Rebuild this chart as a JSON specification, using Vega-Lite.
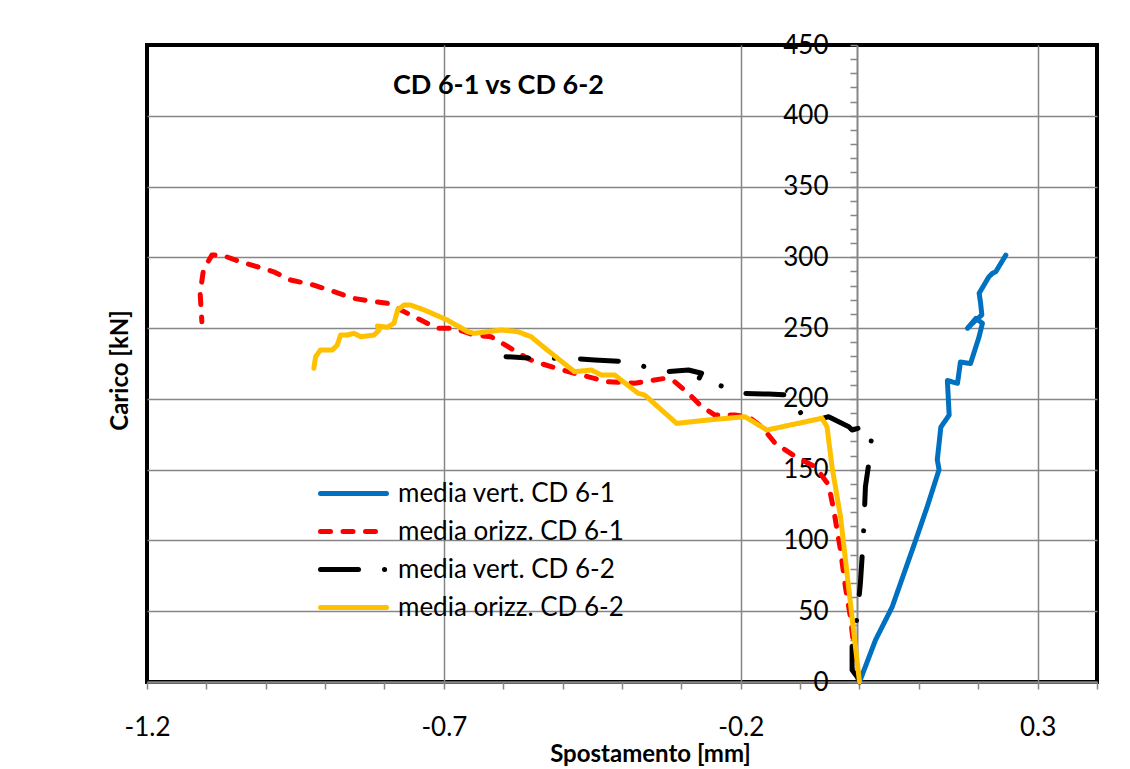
{
  "$schema": "https://vega.github.io/schema/vega-lite/v6.json",
  "width": 950,
  "height": 637,
  "autosize": {"type": "none"},
  "padding": {"left": 147, "top": 45, "right": 33, "bottom": 87},
  "background": "white",
  "config": {
    "font": "Lato",
    "view": {"stroke": "#000000", "strokeWidth": 4}
  },
  "title": {
    "text": "CD 6-1 vs CD 6-2",
    "anchor": "start",
    "frame": "group",
    "orient": "top",
    "offset": 0,
    "dx": 246,
    "dy": 68,
    "baseline": "top",
    "font": "Lato",
    "fontSize": 27,
    "fontWeight": "bold",
    "color": "#000000"
  },
  "data": {
    "values": [
      {"s": "media vert. CD 6-1", "i": 0, "x": 0, "y": 0},
      {"s": "media vert. CD 6-1", "i": 1, "x": 0.027, "y": 29.7},
      {"s": "media vert. CD 6-1", "i": 2, "x": 0.055, "y": 53},
      {"s": "media vert. CD 6-1", "i": 3, "x": 0.075, "y": 76.8},
      {"s": "media vert. CD 6-1", "i": 4, "x": 0.0945, "y": 100},
      {"s": "media vert. CD 6-1", "i": 5, "x": 0.114, "y": 123.8},
      {"s": "media vert. CD 6-1", "i": 6, "x": 0.134, "y": 150},
      {"s": "media vert. CD 6-1", "i": 7, "x": 0.131, "y": 157},
      {"s": "media vert. CD 6-1", "i": 8, "x": 0.137, "y": 180},
      {"s": "media vert. CD 6-1", "i": 9, "x": 0.151, "y": 188.6},
      {"s": "media vert. CD 6-1", "i": 10, "x": 0.148, "y": 213},
      {"s": "media vert. CD 6-1", "i": 11, "x": 0.165, "y": 211},
      {"s": "media vert. CD 6-1", "i": 12, "x": 0.17, "y": 226},
      {"s": "media vert. CD 6-1", "i": 13, "x": 0.187, "y": 225},
      {"s": "media vert. CD 6-1", "i": 14, "x": 0.2015, "y": 244},
      {"s": "media vert. CD 6-1", "i": 15, "x": 0.207, "y": 253.4},
      {"s": "media vert. CD 6-1", "i": 16, "x": 0.196, "y": 256.9},
      {"s": "media vert. CD 6-1", "i": 17, "x": 0.182, "y": 249.9},
      {"s": "media vert. CD 6-1", "i": 18, "x": 0.193, "y": 254.5},
      {"s": "media vert. CD 6-1", "i": 19, "x": 0.206, "y": 259.3},
      {"s": "media vert. CD 6-1", "i": 20, "x": 0.204, "y": 267.5},
      {"s": "media vert. CD 6-1", "i": 21, "x": 0.2015, "y": 274.6},
      {"s": "media vert. CD 6-1", "i": 22, "x": 0.213, "y": 282.8},
      {"s": "media vert. CD 6-1", "i": 23, "x": 0.218, "y": 286.3},
      {"s": "media vert. CD 6-1", "i": 24, "x": 0.224, "y": 288.7},
      {"s": "media vert. CD 6-1", "i": 25, "x": 0.2296, "y": 289.9},
      {"s": "media vert. CD 6-1", "i": 26, "x": 0.2465, "y": 301.6},

      {"s": "media orizz. CD 6-1", "i": 0, "x": 0, "y": 0},
      {"s": "media orizz. CD 6-1", "i": 1, "x": -0.001, "y": 3.7},
      {"s": "media orizz. CD 6-1", "i": 2, "x": -0.0096, "y": 24.9},
      {"s": "media orizz. CD 6-1", "i": 3, "x": -0.0154, "y": 46.1},
      {"s": "media orizz. CD 6-1", "i": 4, "x": -0.0238, "y": 67.3},
      {"s": "media orizz. CD 6-1", "i": 5, "x": -0.032, "y": 93.2},
      {"s": "media orizz. CD 6-1", "i": 6, "x": -0.0434, "y": 121.5},
      {"s": "media orizz. CD 6-1", "i": 7, "x": -0.052, "y": 139.2},
      {"s": "media orizz. CD 6-1", "i": 8, "x": -0.0745, "y": 152.1},
      {"s": "media orizz. CD 6-1", "i": 9, "x": -0.108, "y": 159.2},
      {"s": "media orizz. CD 6-1", "i": 10, "x": -0.142, "y": 168.6},
      {"s": "media orizz. CD 6-1", "i": 11, "x": -0.1645, "y": 180.3},
      {"s": "media orizz. CD 6-1", "i": 12, "x": -0.187, "y": 187.4},
      {"s": "media orizz. CD 6-1", "i": 13, "x": -0.2096, "y": 188.6},
      {"s": "media orizz. CD 6-1", "i": 14, "x": -0.2434, "y": 188.6},
      {"s": "media orizz. CD 6-1", "i": 15, "x": -0.266, "y": 194.5},
      {"s": "media orizz. CD 6-1", "i": 16, "x": -0.288, "y": 203.9},
      {"s": "media orizz. CD 6-1", "i": 17, "x": -0.311, "y": 212.1},
      {"s": "media orizz. CD 6-1", "i": 18, "x": -0.328, "y": 214.5},
      {"s": "media orizz. CD 6-1", "i": 19, "x": -0.3785, "y": 211},
      {"s": "media orizz. CD 6-1", "i": 20, "x": -0.4235, "y": 212.1},
      {"s": "media orizz. CD 6-1", "i": 21, "x": -0.48, "y": 218},
      {"s": "media orizz. CD 6-1", "i": 22, "x": -0.5475, "y": 226.3},
      {"s": "media orizz. CD 6-1", "i": 23, "x": -0.564, "y": 229.8},
      {"s": "media orizz. CD 6-1", "i": 24, "x": -0.592, "y": 236.9},
      {"s": "media orizz. CD 6-1", "i": 25, "x": -0.6206, "y": 243.9},
      {"s": "media orizz. CD 6-1", "i": 26, "x": -0.649, "y": 245.1},
      {"s": "media orizz. CD 6-1", "i": 27, "x": -0.6826, "y": 249.9},
      {"s": "media orizz. CD 6-1", "i": 28, "x": -0.7107, "y": 249.9},
      {"s": "media orizz. CD 6-1", "i": 29, "x": -0.739, "y": 255.7},
      {"s": "media orizz. CD 6-1", "i": 30, "x": -0.7726, "y": 262.8},
      {"s": "media orizz. CD 6-1", "i": 31, "x": -0.795, "y": 267.5},
      {"s": "media orizz. CD 6-1", "i": 32, "x": -0.8177, "y": 268.7},
      {"s": "media orizz. CD 6-1", "i": 33, "x": -0.8515, "y": 271},
      {"s": "media orizz. CD 6-1", "i": 34, "x": -0.885, "y": 275.7},
      {"s": "media orizz. CD 6-1", "i": 35, "x": -0.919, "y": 280.4},
      {"s": "media orizz. CD 6-1", "i": 36, "x": -0.958, "y": 284},
      {"s": "media orizz. CD 6-1", "i": 37, "x": -0.9867, "y": 289.8},
      {"s": "media orizz. CD 6-1", "i": 38, "x": -1.0147, "y": 293.4},
      {"s": "media orizz. CD 6-1", "i": 39, "x": -1.043, "y": 296.9},
      {"s": "media orizz. CD 6-1", "i": 40, "x": -1.074, "y": 301.6},
      {"s": "media orizz. CD 6-1", "i": 41, "x": -1.0907, "y": 301.6},
      {"s": "media orizz. CD 6-1", "i": 42, "x": -1.105, "y": 291},
      {"s": "media orizz. CD 6-1", "i": 43, "x": -1.1105, "y": 274.6},
      {"s": "media orizz. CD 6-1", "i": 44, "x": -1.1076, "y": 254.5},

      {"s": "media vert. CD 6-2", "i": 0, "x": 0, "y": 0},
      {"s": "media vert. CD 6-2", "i": 1, "x": -0.004, "y": 3.7},
      {"s": "media vert. CD 6-2", "i": 2, "x": -0.0125, "y": 8.5},
      {"s": "media vert. CD 6-2", "i": 3, "x": -0.0125, "y": 24.9},
      {"s": "media vert. CD 6-2", "i": 4, "x": -0.004, "y": 46.1},
      {"s": "media vert. CD 6-2", "i": 5, "x": 0.0015, "y": 69.7},
      {"s": "media vert. CD 6-2", "i": 6, "x": 0.0044, "y": 88.5},
      {"s": "media vert. CD 6-2", "i": 7, "x": 0.0073, "y": 109.7},
      {"s": "media vert. CD 6-2", "i": 8, "x": 0.01, "y": 138},
      {"s": "media vert. CD 6-2", "i": 9, "x": 0.0157, "y": 154.5},
      {"s": "media vert. CD 6-2", "i": 10, "x": 0.0213, "y": 176.8},
      {"s": "media vert. CD 6-2", "i": 11, "x": 0.0213, "y": 178},
      {"s": "media vert. CD 6-2", "i": 12, "x": 0.0073, "y": 180.3},
      {"s": "media vert. CD 6-2", "i": 13, "x": -0.0125, "y": 178},
      {"s": "media vert. CD 6-2", "i": 14, "x": -0.018, "y": 180.3},
      {"s": "media vert. CD 6-2", "i": 15, "x": -0.052, "y": 187.4},
      {"s": "media vert. CD 6-2", "i": 16, "x": -0.0745, "y": 185.1},
      {"s": "media vert. CD 6-2", "i": 17, "x": -0.097, "y": 188.6},
      {"s": "media vert. CD 6-2", "i": 18, "x": -0.108, "y": 196.8},
      {"s": "media vert. CD 6-2", "i": 19, "x": -0.1194, "y": 202.7},
      {"s": "media vert. CD 6-2", "i": 20, "x": -0.153, "y": 203.4},
      {"s": "media vert. CD 6-2", "i": 21, "x": -0.198, "y": 203.9},
      {"s": "media vert. CD 6-2", "i": 22, "x": -0.2208, "y": 207.5},
      {"s": "media vert. CD 6-2", "i": 23, "x": -0.2546, "y": 212.1},
      {"s": "media vert. CD 6-2", "i": 24, "x": -0.2715, "y": 213.3},
      {"s": "media vert. CD 6-2", "i": 25, "x": -0.266, "y": 218.1},
      {"s": "media vert. CD 6-2", "i": 26, "x": -0.288, "y": 220.4},
      {"s": "media vert. CD 6-2", "i": 27, "x": -0.328, "y": 219.2},
      {"s": "media vert. CD 6-2", "i": 28, "x": -0.3617, "y": 222.7},
      {"s": "media vert. CD 6-2", "i": 29, "x": -0.3897, "y": 226.3},
      {"s": "media vert. CD 6-2", "i": 30, "x": -0.446, "y": 227.5},
      {"s": "media vert. CD 6-2", "i": 31, "x": -0.4855, "y": 228.7},
      {"s": "media vert. CD 6-2", "i": 32, "x": -0.5475, "y": 228.7},
      {"s": "media vert. CD 6-2", "i": 33, "x": -0.5953, "y": 229.8},

      {"s": "media orizz. CD 6-2", "i": 0, "x": 0, "y": 0},
      {"s": "media orizz. CD 6-2", "i": 1, "x": -0.032, "y": 116.8},
      {"s": "media orizz. CD 6-2", "i": 2, "x": -0.0463, "y": 152.1},
      {"s": "media orizz. CD 6-2", "i": 3, "x": -0.0547, "y": 180.3},
      {"s": "media orizz. CD 6-2", "i": 4, "x": -0.0632, "y": 186.3},
      {"s": "media orizz. CD 6-2", "i": 5, "x": -0.156, "y": 178},
      {"s": "media orizz. CD 6-2", "i": 6, "x": -0.1927, "y": 187.4},
      {"s": "media orizz. CD 6-2", "i": 7, "x": -0.2546, "y": 185.1},
      {"s": "media orizz. CD 6-2", "i": 8, "x": -0.308, "y": 182.7},
      {"s": "media orizz. CD 6-2", "i": 9, "x": -0.3617, "y": 202.7},
      {"s": "media orizz. CD 6-2", "i": 10, "x": -0.3728, "y": 203.9},
      {"s": "media orizz. CD 6-2", "i": 11, "x": -0.4123, "y": 216.9},
      {"s": "media orizz. CD 6-2", "i": 12, "x": -0.4348, "y": 216.9},
      {"s": "media orizz. CD 6-2", "i": 13, "x": -0.4517, "y": 220.4},
      {"s": "media orizz. CD 6-2", "i": 14, "x": -0.48, "y": 219.2},
      {"s": "media orizz. CD 6-2", "i": 15, "x": -0.519, "y": 232.2},
      {"s": "media orizz. CD 6-2", "i": 16, "x": -0.536, "y": 238},
      {"s": "media orizz. CD 6-2", "i": 17, "x": -0.553, "y": 243.9},
      {"s": "media orizz. CD 6-2", "i": 18, "x": -0.5755, "y": 247.5},
      {"s": "media orizz. CD 6-2", "i": 19, "x": -0.6037, "y": 248.7},
      {"s": "media orizz. CD 6-2", "i": 20, "x": -0.649, "y": 246.3},
      {"s": "media orizz. CD 6-2", "i": 21, "x": -0.66, "y": 247.5},
      {"s": "media orizz. CD 6-2", "i": 22, "x": -0.694, "y": 255.7},
      {"s": "media orizz. CD 6-2", "i": 23, "x": -0.733, "y": 262.8},
      {"s": "media orizz. CD 6-2", "i": 24, "x": -0.756, "y": 266.3},
      {"s": "media orizz. CD 6-2", "i": 25, "x": -0.767, "y": 266.3},
      {"s": "media orizz. CD 6-2", "i": 26, "x": -0.778, "y": 262.8},
      {"s": "media orizz. CD 6-2", "i": 27, "x": -0.784, "y": 253.4},
      {"s": "media orizz. CD 6-2", "i": 28, "x": -0.795, "y": 250.6},
      {"s": "media orizz. CD 6-2", "i": 29, "x": -0.812, "y": 251.5},
      {"s": "media orizz. CD 6-2", "i": 30, "x": -0.809, "y": 248.7},
      {"s": "media orizz. CD 6-2", "i": 31, "x": -0.8177, "y": 245.1},
      {"s": "media orizz. CD 6-2", "i": 32, "x": -0.84, "y": 243.9},
      {"s": "media orizz. CD 6-2", "i": 33, "x": -0.8515, "y": 246.3},
      {"s": "media orizz. CD 6-2", "i": 34, "x": -0.8627, "y": 245.1},
      {"s": "media orizz. CD 6-2", "i": 35, "x": -0.874, "y": 245.1},
      {"s": "media orizz. CD 6-2", "i": 36, "x": -0.8796, "y": 238},
      {"s": "media orizz. CD 6-2", "i": 37, "x": -0.888, "y": 234.5},
      {"s": "media orizz. CD 6-2", "i": 38, "x": -0.908, "y": 234.5},
      {"s": "media orizz. CD 6-2", "i": 39, "x": -0.916, "y": 229.8},
      {"s": "media orizz. CD 6-2", "i": 40, "x": -0.919, "y": 221.6}
    ]
  },
  "mark": {"type": "line", "strokeWidth": 5, "strokeCap": "round", "strokeJoin": "round"},
  "encoding": {
    "x": {
      "field": "x",
      "type": "quantitative",
      "scale": {"domain": [-1.2, 0.4], "nice": false, "zero": false},
      "axis": {
        "values": [-1.2, -1.1, -1.0, -0.9, -0.8, -0.7, -0.6, -0.5, -0.4, -0.3, -0.2, -0.1, 0, 0.1, 0.2, 0.3, 0.4],
        "labelExpr": "abs((datum.value + 1.2) / 0.5 - round((datum.value + 1.2) / 0.5)) < 0.001 ? toString(round(datum.value * 10) / 10) : ''",
        "labelFont": "Lato",
        "labelFontSize": 26,
        "labelColor": "#000000",
        "labelPadding": 25,
        "labelFlush": false,
        "labelOverlap": false,
        "grid": true,
        "gridColor": "#868686",
        "gridWidth": 1.5,
        "gridOpacity": {"condition": {"test": "abs((datum.value + 1.2) / 0.5 - round((datum.value + 1.2) / 0.5)) < 0.001 && datum.value > -1.1", "value": 1}, "value": 0},
        "domainColor": "#868686",
        "domainWidth": 2.5,
        "tickColor": "#868686",
        "tickWidth": 1.5,
        "tickSize": 7,
        "title": "Spostamento [mm]",
        "titleFont": "Lato",
        "titleFontSize": 24,
        "titleFontWeight": "bold",
        "titleColor": "#000000",
        "titleX": 503,
        "titleY": 72,
        "titleAlign": "center",
        "titleBaseline": "middle"
      }
    },
    "y": {
      "field": "y",
      "type": "quantitative",
      "scale": {"domain": [0, 450], "nice": false, "zero": false},
      "axis": {
        "orient": "left",
        "offset": -710,
        "values": [0, 10, 20, 30, 40, 50, 60, 70, 80, 90, 100, 110, 120, 130, 140, 150, 160, 170, 180, 190, 200, 210, 220, 230, 240, 250, 260, 270, 280, 290, 300, 310, 320, 330, 340, 350, 360, 370, 380, 390, 400, 410, 420, 430, 440, 450],
        "labelExpr": "datum.value % 50 === 0 ? datum.label : ''",
        "labelFont": "Lato",
        "labelFontSize": 26,
        "labelColor": "#000000",
        "labelPadding": 22,
        "labelFlush": false,
        "labelOverlap": false,
        "grid": true,
        "gridColor": "#868686",
        "gridWidth": 1.5,
        "gridOpacity": {"condition": {"test": "datum.value % 50 === 0 && datum.value > 0 && datum.value < 450", "value": 1}, "value": 0},
        "domainColor": "#868686",
        "domainWidth": 2,
        "tickColor": "#868686",
        "tickWidth": 1.5,
        "tickSize": 7,
        "title": "Carico [kN]",
        "titleFont": "Lato",
        "titleFontSize": 24,
        "titleFontWeight": "bold",
        "titleColor": "#000000",
        "titleAngle": -90,
        "titleX": -737,
        "titleY": 325,
        "titleAlign": "center",
        "titleBaseline": "middle"
      }
    },
    "color": {
      "field": "s",
      "type": "nominal",
      "scale": {
        "domain": ["media vert. CD 6-1", "media orizz. CD 6-1", "media vert. CD 6-2", "media orizz. CD 6-2"],
        "range": ["#0070C0", "#FF0000", "#000000", "#FFC000"]
      },
      "legend": {
        "title": null,
        "orient": "none",
        "legendX": 193,
        "legendY": 435,
        "padding": 0,
        "symbolType": "M-3,0H3",
        "symbolSize": 484,
        "symbolStrokeWidth": 5,
        "labelFont": "Lato",
        "labelFontSize": 26,
        "labelColor": "#000000",
        "labelOffset": 31,
        "labelLimit": 500,
        "rowPadding": 11,
        "encode": {"symbols": {"update": {"strokeCap": {"value": "round"}}}}
      }
    },
    "strokeDash": {
      "field": "s",
      "type": "nominal",
      "scale": {
        "domain": ["media vert. CD 6-1", "media orizz. CD 6-1", "media vert. CD 6-2", "media orizz. CD 6-2"],
        "range": [[1, 0], [10, 12.5], [38, 26, 0.1, 26], [1, 0]]
      },
      "legend": {
        "title": null,
        "orient": "none",
        "legendX": 193,
        "legendY": 435,
        "padding": 0,
        "symbolType": "M-3,0H3",
        "symbolSize": 484,
        "symbolStrokeWidth": 5,
        "labelFont": "Lato",
        "labelFontSize": 26,
        "labelColor": "#000000",
        "labelOffset": 31,
        "labelLimit": 500,
        "rowPadding": 11,
        "encode": {"symbols": {"update": {"strokeCap": {"value": "round"}}}}
      }
    },
    "order": {"field": "i", "type": "quantitative"}
  }
}
